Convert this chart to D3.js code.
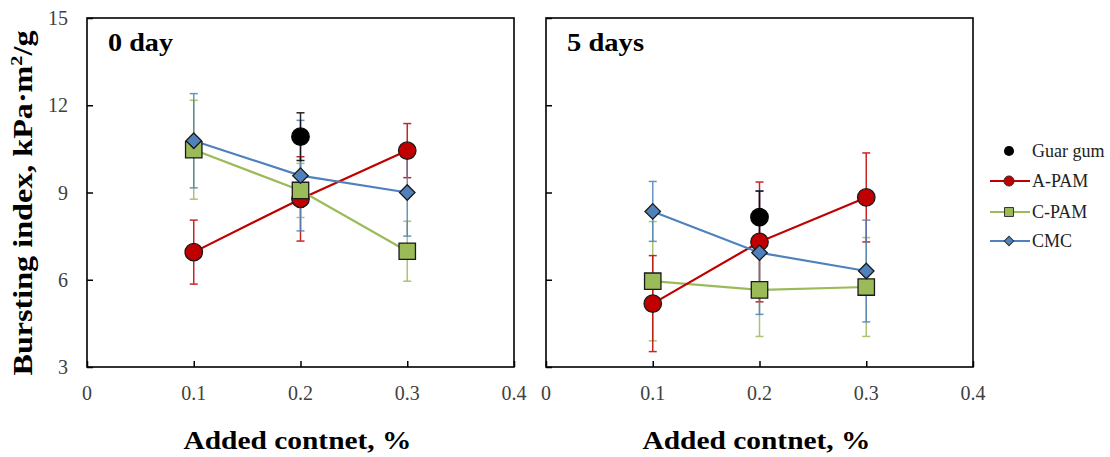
<!DOCTYPE html>
<html>
<head>
<meta charset="utf-8">
<script src="https://cdn.jsdelivr.net/npm/d3@7"></script>
<style>
	body { margin: 0; background: #fff; }
</style>
</head>
<body>
<svg id="chart" width="1110" height="457"></svg>
<script>
// x positions (added content, %)
const contents = [0.1, 0.2, 0.3];
const xTicks = [0, 0.1, 0.2, 0.3, 0.4];
const yTicks = [3, 6, 9, 12, 15];
const seriesNames = ["Guar gum", "A-PAM", "C-PAM", "CMC"];
const panelTitles = ["0 day", "5 days"];

// 0 day
const guar0 = [null, 10.92, null];
const guar0Err = [null, 0.82, null];
const apam0 = [6.95, 8.78, 10.44];
const apam0Err = [1.1, 1.45, 0.93];
const cpam0 = [10.47, 9.07, 6.98];
const cpam0Err = [1.7, 0.93, 1.03];
const cmc0 = [10.78, 9.58, 9.0];
const cmc0Err = [1.62, 1.9, 1.5];

// 5 days
const guar5 = [null, 8.15, null];
const guar5Err = [null, 0.9, null];
const apam5 = [5.18, 7.3, 8.83];
const apam5Err = [1.65, 2.06, 1.53];
const cpam5 = [5.95, 5.65, 5.75];
const cpam5Err = [2.05, 1.6, 1.7];
const cmc5 = [8.35, 6.93, 6.3];
const cmc5Err = [1.03, 2.12, 1.75];

const colors = {
	"Guar gum": "#000000",
	"A-PAM": "#c00000",
	"C-PAM": "#9bbb59",
	"CMC": "#4f81bd",
};
// diamond = square turned 45 degrees
const shapes = {
	"Guar gum": d3.symbolCircle,
	"A-PAM": d3.symbolCircle,
	"C-PAM": d3.symbolSquare,
	"CMC": d3.symbolSquare,
};
const turns = { "Guar gum": 0, "A-PAM": 0, "C-PAM": 0, "CMC": 45 };
const sizes = { "Guar gum": 240, "A-PAM": 240, "C-PAM": 270, "CMC": 120 };

const panels = [
	{
		left: 87, right: 514, titleW: 65,
		series: [
			{ name: "A-PAM", vals: apam0, err: apam0Err, line: true },
			{ name: "C-PAM", vals: cpam0, err: cpam0Err, line: true },
			{ name: "CMC", vals: cmc0, err: cmc0Err, line: true },
			{ name: "Guar gum", vals: guar0, err: guar0Err, line: false },
		],
	},
	{
		left: 546, right: 973, titleW: 77,
		series: [
			{ name: "C-PAM", vals: cpam5, err: cpam5Err, line: true },
			{ name: "A-PAM", vals: apam5, err: apam5Err, line: true },
			{ name: "CMC", vals: cmc5, err: cmc5Err, line: true },
			{ name: "Guar gum", vals: guar5, err: guar5Err, line: false },
		],
	},
];

const svg = d3.select("#chart").attr("font-family", "'Liberation Serif', 'Times New Roman', serif");
const plotTop = 18, plotBottom = 367;

const yScale = d3.scaleLinear().domain([3, 15]).range([plotBottom, plotTop]);

panels.forEach((p, pi) => {
	const xScale = d3.scaleLinear().domain([0, 0.4]).range([p.left, p.right]);
	const g = svg.append("g");

	// ticks inside the frame
	g.append("g")
		.attr("transform", `translate(0,${plotBottom})`)
		.call(d3.axisTop(xScale).tickValues(xTicks).tickSize(6).tickFormat(""))
		.call((a) => a.select(".domain").remove())
		.selectAll("line").attr("stroke", "#000").attr("stroke-width", 1.5);
	g.append("g")
		.attr("transform", `translate(${p.left},0)`)
		.call(d3.axisRight(yScale).tickValues(yTicks).tickSize(6).tickFormat(""))
		.call((a) => a.select(".domain").remove())
		.selectAll("line").attr("stroke", "#000").attr("stroke-width", 1.5);

	g.append("rect")
		.attr("x", p.left).attr("y", plotTop)
		.attr("width", p.right - p.left).attr("height", plotBottom - plotTop)
		.attr("fill", "none").attr("stroke", "#000").attr("stroke-width", 1.6);

	// tick labels
	g.selectAll(".xl").data(xTicks).enter().append("text")
		.attr("x", (d) => xScale(d)).attr("y", 400)
		.attr("text-anchor", "middle").attr("font-size", 20).attr("fill", "#404040")
		.text((d) => d === 0 ? "0" : d3.format(".1f")(d));
	if (pi === 0) {
		g.selectAll(".yl").data(yTicks).enter().append("text")
			.attr("x", 68).attr("y", (d) => yScale(d) + 7)
			.attr("text-anchor", "end").attr("font-size", 20).attr("fill", "#404040")
			.text((d) => d);
	}

	g.append("text")
		.attr("x", p.left + 21).attr("y", 51)
		.attr("font-size", 26).attr("font-weight", "bold")
		.attr("textLength", p.titleW).attr("lengthAdjust", "spacingAndGlyphs")
		.text(panelTitles[pi]);

	g.append("text")
		.attr("x", (p.left + p.right) / 2 - 3).attr("y", 449)
		.attr("text-anchor", "middle").attr("font-size", 26).attr("font-weight", "bold")
		.attr("textLength", 228).attr("lengthAdjust", "spacingAndGlyphs")
		.text("Added contnet, %");

	// error bars
	p.series.forEach((s) => {
		contents.forEach((c, i) => {
			if (s.vals[i] == null) return;
			const x = xScale(c);
			const y1 = yScale(s.vals[i] + s.err[i]);
			const y2 = yScale(s.vals[i] - s.err[i]);
			const eb = g.append("g").attr("stroke", colors[s.name]).attr("stroke-width", 1.5).attr("opacity", 0.85);
			eb.append("line").attr("x1", x).attr("x2", x).attr("y1", y1).attr("y2", y2);
			eb.append("line").attr("x1", x - 4).attr("x2", x + 4).attr("y1", y1).attr("y2", y1);
			eb.append("line").attr("x1", x - 4).attr("x2", x + 4).attr("y1", y2).attr("y2", y2);
		});
	});

	// lines
	const line = d3.line().defined((d) => d[1] != null).x((d) => xScale(d[0])).y((d) => yScale(d[1]));
	p.series.filter((s) => s.line).forEach((s) => {
		g.append("path")
			.datum(contents.map((c, i) => [c, s.vals[i]]))
			.attr("d", line)
			.attr("fill", "none").attr("stroke", colors[s.name]).attr("stroke-width", 2.2);
	});

	// markers
	p.series.forEach((s) => {
		contents.forEach((c, i) => {
			if (s.vals[i] == null) return;
			g.append("path")
				.attr("d", d3.symbol().type(shapes[s.name]).size(sizes[s.name])())
				.attr("transform", `translate(${xScale(c)},${yScale(s.vals[i])}) rotate(${turns[s.name]})`)
				.attr("fill", colors[s.name])
				.attr("stroke", s.name === "Guar gum" ? "#000" : "#1a1a1a")
				.attr("stroke-width", 1.3);
		});
	});
});

// y axis title
const yTitle = svg.append("text")
	.attr("transform", "translate(32,203) rotate(-90)")
	.attr("text-anchor", "middle").attr("font-size", 27).attr("font-weight", "bold")
	.attr("textLength", 345).attr("lengthAdjust", "spacingAndGlyphs");
yTitle.append("tspan").text("Bursting index, kPa·m");
yTitle.append("tspan").attr("font-size", 17).attr("dy", -10).text("2");
yTitle.append("tspan").attr("dy", 10).text("/g");

// legend
const legendY = [151, 181, 212, 241];
const lg = svg.append("g");
seriesNames.forEach((name, i) => {
	const y = legendY[i];
	if (name !== "Guar gum") {
		lg.append("line").attr("x1", 990).attr("x2", 1030).attr("y1", y).attr("y2", y)
			.attr("stroke", colors[name]).attr("stroke-width", 2);
	}
	const sz = name === "CMC" ? 45 : 80;
	lg.append("path")
		.attr("d", d3.symbol().type(shapes[name]).size(sz)())
		.attr("transform", `translate(1009,${y}) rotate(${turns[name]})`)
		.attr("fill", colors[name]).attr("stroke", name === "Guar gum" ? "none" : "#333").attr("stroke-width", 1);
	lg.append("text")
		.attr("x", 1032).attr("y", y + 6)
		.attr("font-size", 18).attr("fill", "#222")
		.text(name);
});
</script>
</body>
</html>
